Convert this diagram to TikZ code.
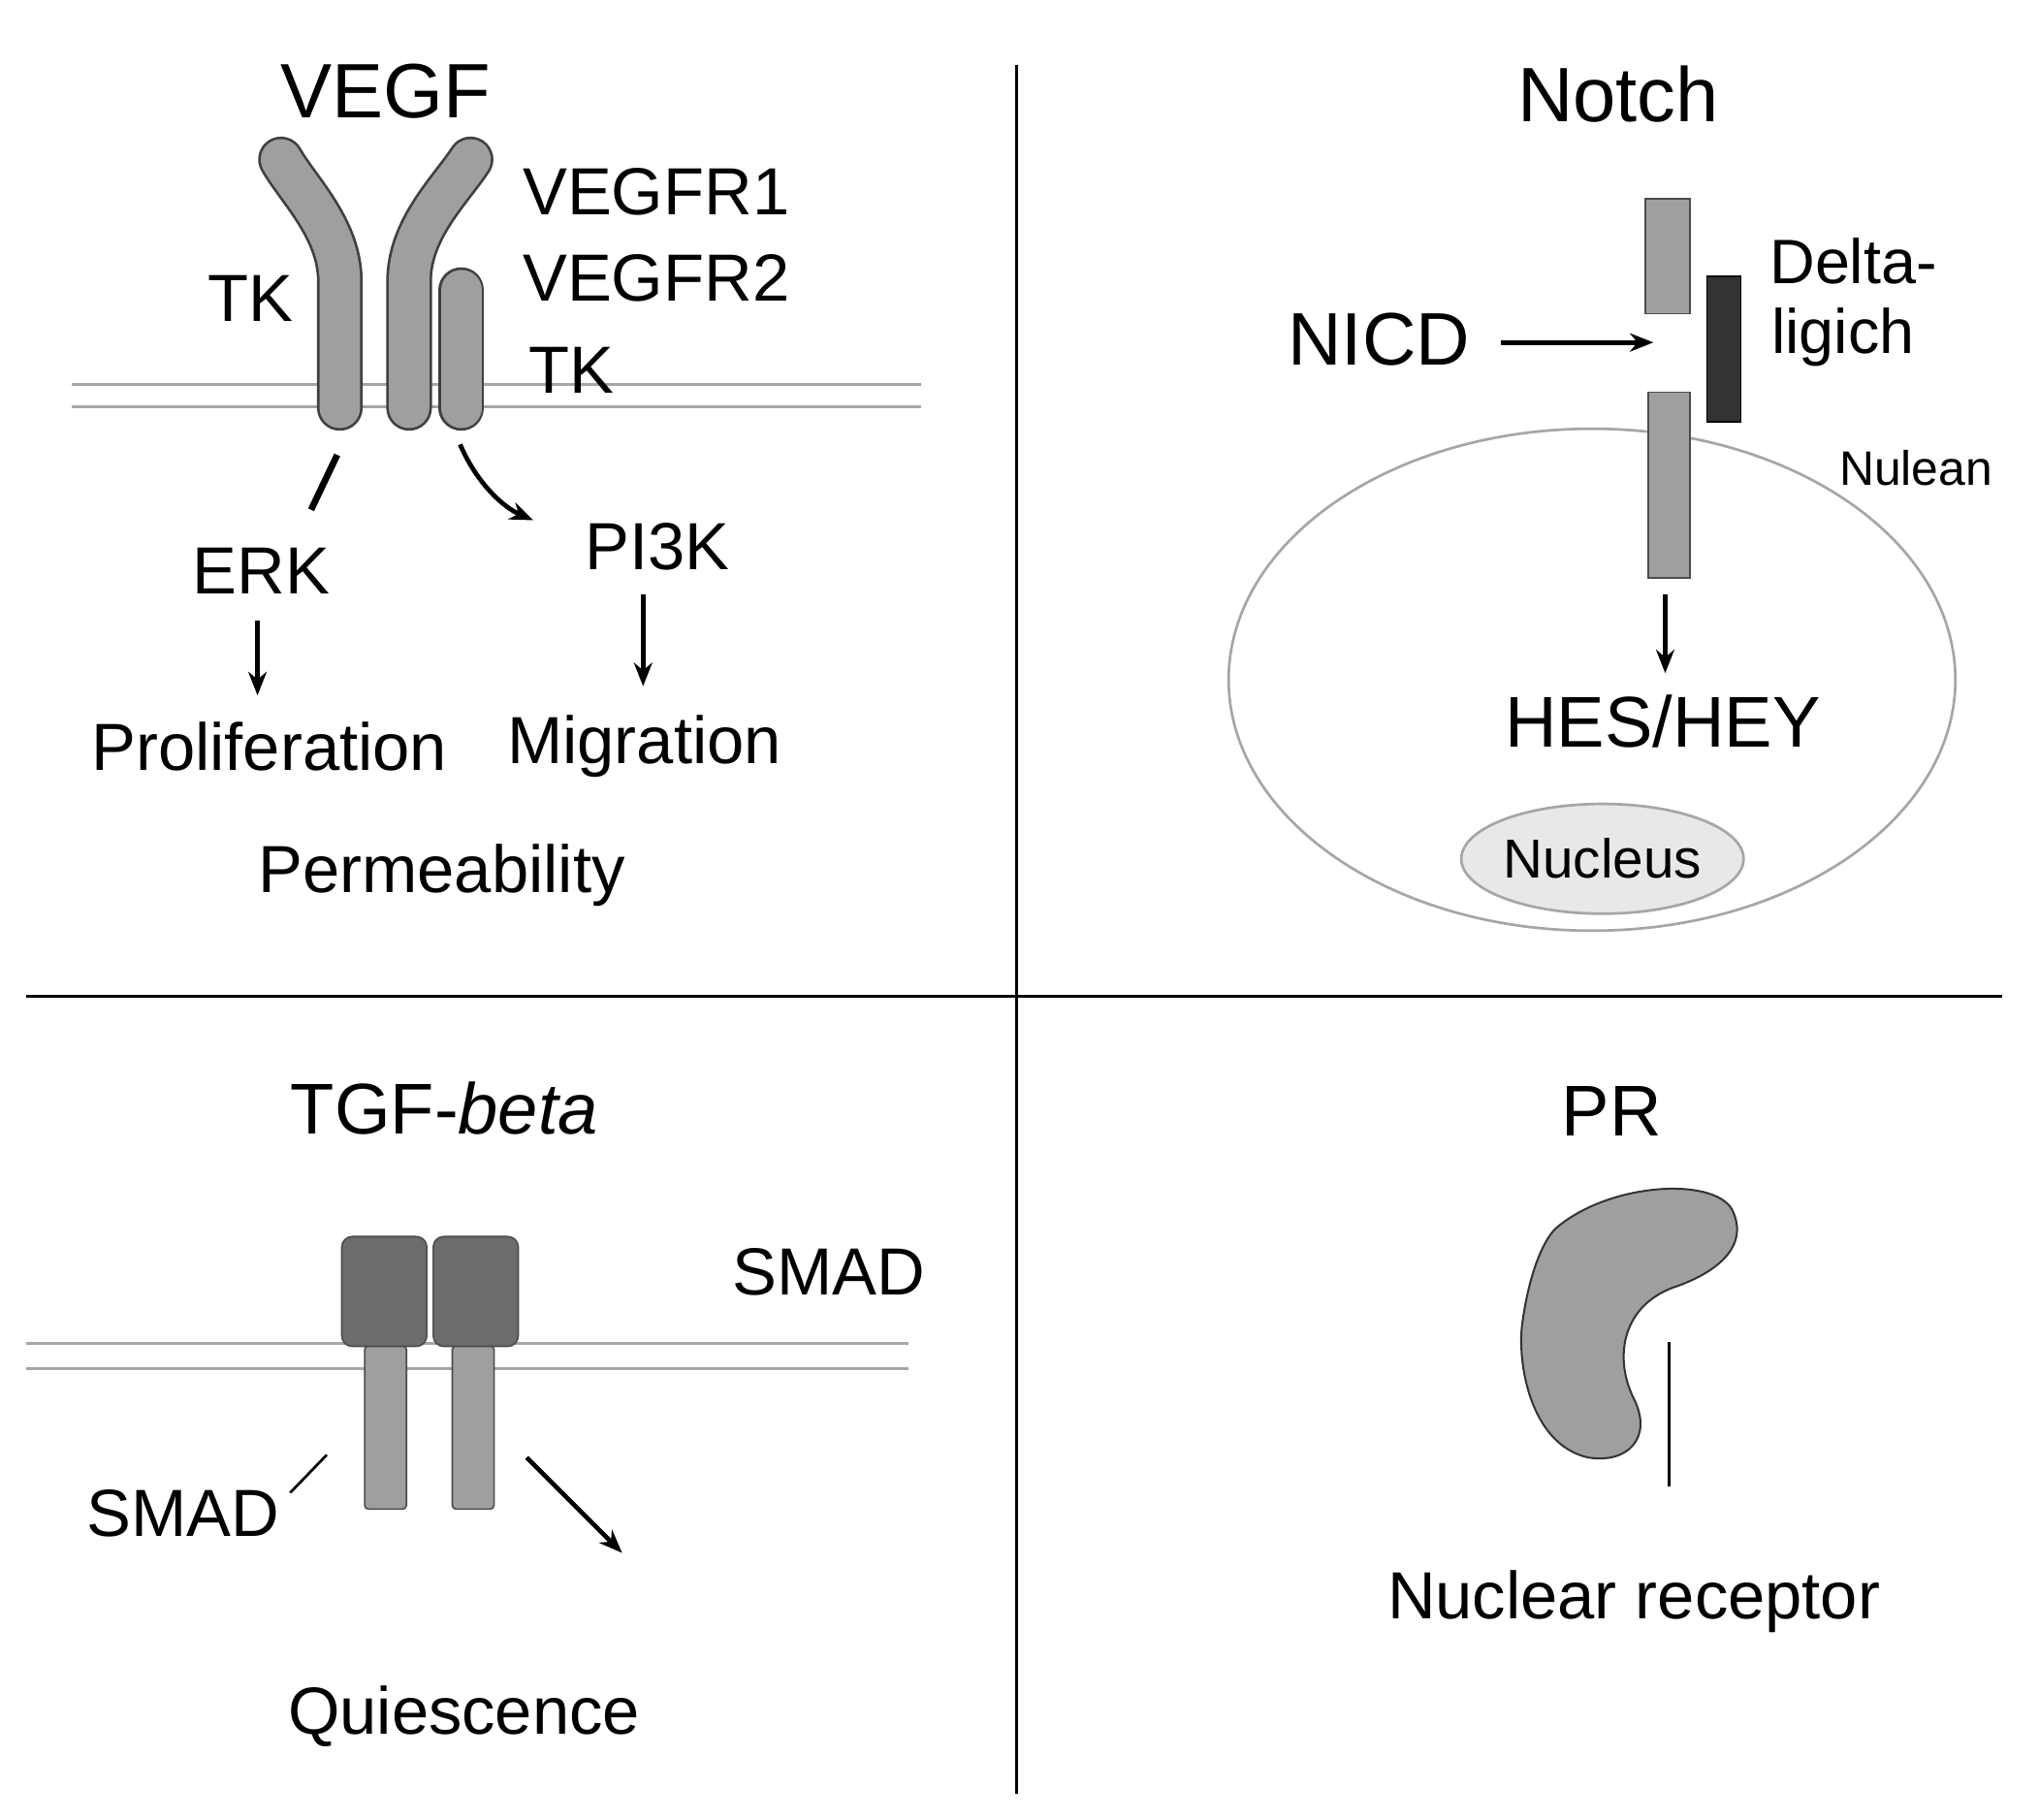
\documentclass[tikz,border=0pt]{standalone}
\usepackage{fontspec}
\setmainfont{Liberation Sans}
\usetikzlibrary{arrows.meta,shapes.geometric}
\newcommand{\fs}[1]{\fontsize{#1}{#1}\selectfont}
\begin{document}
\begin{tikzpicture}[x=1pt,y=-1pt,
  lbl/.style={inner sep=0pt,font=\fs{51}},
  big/.style={inner sep=0pt,font=\fs{59}},
  arr/.style={line width=3.5pt,-{Stealth[length=18pt,width=14pt]}},
  mem/.style={draw=gray!70,line width=2pt},
  box/.style={fill=gray!75,draw=black!70,line width=1.2pt},
  rec/.style={line cap=round}]
\useasboundingbox (0,0) rectangle (1560,1392);
\fill[white] (0,0) rectangle (1560,1392);
% dividers
\draw[line width=2pt] (778,50) -- (778,1372);
\draw[line width=2pt] (20,762) -- (1532,762);
% ===== VEGF
\node[big] (vegf) at (295,70) {VEGF};
\draw[mem] (55,294) -- (705,294) (55,311) -- (705,311);
\foreach \p in {
  {(260,312) -- (260,215) .. controls (260,175) and (228,145) .. (215,122)},
  {(313,312) -- (313,215) .. controls (313,175) and (345,145) .. (360,122)},
  {(353,312) -- (353,222)}}{
  \draw[rec,line width=35pt,black!75] \p;
  \draw[rec,line width=31pt,gray!75] \p;
}
\node[lbl] (tk1) at (192,228) {TK};
\node[lbl] (r1) at (502,147) {VEGFR1};
\node[lbl] (r2) at (502,213) {VEGFR2};
\node[lbl] (tk2) at (437,283) {TK};
\node[lbl] (erk) at (200,437) {ERK};
\node[lbl] (pi3k) at (503,418) {PI3K};
\node[lbl] (prol) at (206,571) {Proliferation};
\node[lbl] (mig) at (493,571) {Migration};
\node[lbl] (perm) at (338,670) {Permeability};
\coordinate (d1) at (258,348); \coordinate (d2) at (238,390);
\draw[line width=5pt] (d1) -- (d2);
\coordinate (c1) at (352,340); \coordinate (c2) at (408,398);
\draw[arr] (c1) .. controls (365,370) and (385,388) .. (c2);
\coordinate (e1) at (197,475); \coordinate (e2) at (197,532);
\draw[arr] (e1) -- (e2);
\coordinate (f1) at (492,455); \coordinate (f2) at (492,525);
\draw[arr] (f1) -- (f2);
% ===== Notch
\node[big] (notch) at (1238,72) {Notch};
\draw[line width=2pt,draw=gray!70] (1218,520) ellipse [x radius=278, y radius=192];
\node[draw=black!70,fill=gray!75,line width=1.2pt,minimum width=34pt,minimum height=88pt,inner sep=0pt] (n1) at (1276,196) {};
\node[draw=black,fill=black!80,line width=1.2pt,minimum width=26pt,minimum height=111pt,inner sep=0pt] (dl) at (1319,267) {};
\node[draw=black!70,fill=gray!75,line width=1.2pt,minimum width=32pt,minimum height=142pt,inner sep=0pt] (n2) at (1277,371) {};
\node[lbl,font=\fs{48}] (delta) at (1418,200) {Delta-};
\node[lbl,font=\fs{48}] (lig) at (1410,258) {ligich};
\node[big,font=\fs{57}] (nicd) at (1055,260) {NICD};
\coordinate (na) at (1265,262); \coordinate (nb) at (1148,262);
\draw[arr] (nb) -- (na);
\node[lbl,font=\fs{37},anchor=west] (nul) at (1407,358) {Nulean};
\node[big,font=\fs{55}] (hes) at (1272,552) {HES/HEY};
\coordinate (h1) at (1274,455); \coordinate (h2) at (1274,515);
\draw[arr] (h1) -- (h2);
\node[draw=gray!70,line width=2pt,fill=gray!18,ellipse,minimum width=216pt,minimum height=84pt,inner sep=0pt,font=\fs{42}] (nuc) at (1226,657) {Nucleus};
% ===== TGF-beta
\node[big,font=\fs{55}] (tgf) at (340,848) {TGF-\textit{beta}};
\draw[mem] (20,1028) -- (695,1028) (20,1047) -- (695,1047);
\node[box,minimum width=32pt,minimum height=125pt,inner sep=0pt,rounded corners=3pt] (s1) at (295,1092) {};
\node[box,minimum width=32pt,minimum height=125pt,inner sep=0pt,rounded corners=3pt] (s2) at (362,1092) {};
\node[box,fill=gray!85!black,minimum width=65pt,minimum height=84pt,inner sep=0pt,rounded corners=8pt] (b1) at (294,988) {};
\node[box,fill=gray!85!black,minimum width=65pt,minimum height=84pt,inner sep=0pt,rounded corners=8pt] (b2) at (364,988) {};
\node[lbl] (smad1) at (634,973) {SMAD};
\node[lbl] (smad2) at (140,1158) {SMAD};
\coordinate (sk) at (222,1142); \coordinate (sl) at (250,1113);
\draw[line width=2pt] (sk) -- (sl);
\coordinate (ta) at (403,1115); \coordinate (tb) at (476,1188);
\draw[arr] (ta) -- (tb);
\node[lbl] (qui) at (355,1313) {Quiescence};
% ===== PR
\node[big,font=\fs{55}] (pr) at (1233,850) {PR};
\draw[fill=gray!75,draw=black!80,line width=1.5pt] (1190,940) .. controls (1230,905) and (1310,900) .. (1325,925) .. controls (1340,955) and (1310,975) .. (1280,985) .. controls (1240,1000) and (1235,1040) .. (1250,1070) .. controls (1265,1100) and (1245,1120) .. (1215,1115) .. controls (1170,1105) and (1160,1040) .. (1165,1010) .. controls (1170,975) and (1180,950) .. (1190,940) -- cycle;
\coordinate (p1) at (1277,1027); \coordinate (p2) at (1277,1137);
\draw[line width=2pt] (p1) -- (p2);
\node[lbl] (nr) at (1250,1225) {Nuclear receptor};
\end{tikzpicture}
\end{document}
